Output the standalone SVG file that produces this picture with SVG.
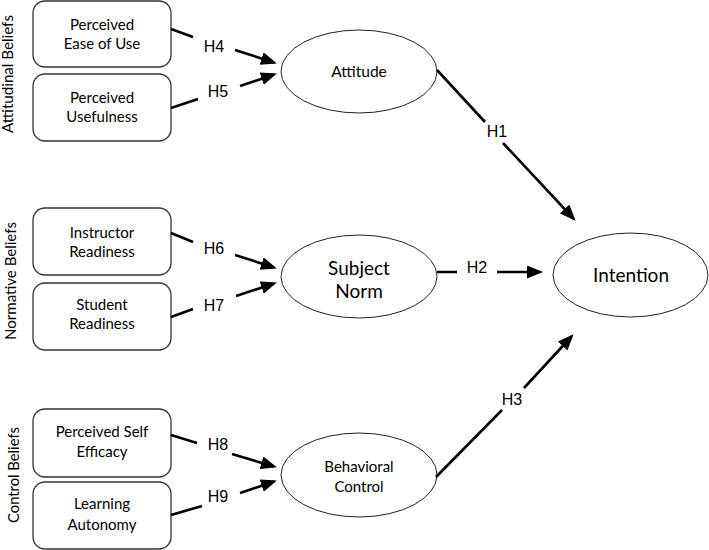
<svg xmlns="http://www.w3.org/2000/svg" width="709" height="550" viewBox="0 0 709 550">
<defs>
<style>
.box{fill:#fff;stroke:#333;stroke-width:1.3}
.ell{fill:#fff;stroke:#222;stroke-width:1}
.t{font-family:Lato,"Liberation Sans",sans-serif;fill:#000;text-anchor:middle}
.h{font-family:"Liberation Sans",Arial,sans-serif;font-size:16px;fill:#000;text-anchor:middle}
.c{fill:none;stroke:#000;stroke-width:2.6}
</style>
<marker id="arr" markerUnits="userSpaceOnUse" markerWidth="16" markerHeight="14" refX="13" refY="6.5" orient="auto">
<path d="M0,0 L16,6.5 L0,13 z" fill="#000"/>
</marker>
</defs>
<rect width="709" height="550" fill="#fff"/>

<g id="group-labels">
<text class="t" font-size="14.5" textLength="118" lengthAdjust="spacingAndGlyphs" transform="translate(13,74) rotate(-90)">Attitudinal Beliefs</text>
<text class="t" font-size="14.5" textLength="118" lengthAdjust="spacingAndGlyphs" transform="translate(16,281) rotate(-90)">Normative Beliefs</text>
<text class="t" font-size="14.5" textLength="96" lengthAdjust="spacingAndGlyphs" transform="translate(19,475) rotate(-90)">Control Beliefs</text>
</g>

<g id="peou"><rect class="box" x="33" y="1" width="138" height="66" rx="12"/>
<text class="t" font-size="15" x="102" y="30">Perceived</text><text class="t" font-size="15" x="102" y="49">Ease of Use</text></g>
<g id="pu"><rect class="box" x="33" y="74" width="138" height="67" rx="12"/>
<text class="t" font-size="15" x="102" y="103">Perceived</text><text class="t" font-size="15" x="102" y="122">Usefulness</text></g>
<g id="ir"><rect class="box" x="33" y="208" width="138" height="67" rx="12"/>
<text class="t" font-size="15" x="102" y="238">Instructor</text><text class="t" font-size="15" x="102" y="257">Readiness</text></g>
<g id="sr"><rect class="box" x="33" y="283" width="138" height="67" rx="12"/>
<text class="t" font-size="15" x="102" y="310">Student</text><text class="t" font-size="15" x="102" y="329">Readiness</text></g>
<g id="pse"><rect class="box" x="33" y="409" width="138" height="68" rx="12"/>
<text class="t" font-size="15" x="102" y="437">Perceived Self</text><text class="t" font-size="15" x="102" y="457">Efficacy</text></g>
<g id="la"><rect class="box" x="33" y="482" width="138" height="67" rx="12"/>
<text class="t" font-size="15" x="102" y="509">Learning</text><text class="t" font-size="15" x="102" y="530">Autonomy</text></g>

<g id="attitude"><ellipse class="ell" cx="359" cy="71.5" rx="78" ry="41.5"/>
<text class="t" font-size="15.5" x="359" y="77">Attitude</text></g>
<g id="subject-norm"><ellipse class="ell" cx="359" cy="276.5" rx="78" ry="41.5"/>
<text class="t" font-size="19" x="359" y="275">Subject</text><text class="t" font-size="19" x="359" y="298">Norm</text></g>
<g id="behavioral-control"><ellipse class="ell" cx="359" cy="475" rx="78" ry="42"/>
<text class="t" font-size="15" x="359" y="472">Behavioral</text><text class="t" font-size="15" x="359" y="492">Control</text></g>
<g id="intention"><ellipse class="ell" cx="630.5" cy="275" rx="77.5" ry="42"/>
<text class="t" font-size="19" x="631" y="282">Intention</text></g>

<g id="connectors">
<path class="c" d="M171,29 L193,37 M235,50 L274,62.5" marker-end="url(#arr)"/>
<path class="c" d="M171,108 L198,99 M240,86 L274,74.5" marker-end="url(#arr)"/>
<path class="c" d="M171,233 L193,242 M235,255 L274,267.5" marker-end="url(#arr)"/>
<path class="c" d="M171,317 L193,309 M236,296 L274,283.5" marker-end="url(#arr)"/>
<path class="c" d="M171,435 L197,443 M232,454 L274,466.5" marker-end="url(#arr)"/>
<path class="c" d="M171,515 L202,506 M240,493 L274,481.5" marker-end="url(#arr)"/>
<path class="c" d="M437,70 L485,122 M503,143 L573.5,218.5" marker-end="url(#arr)"/>
<path class="c" d="M437,272 L457,272 M497,272 L540,272" marker-end="url(#arr)"/>
<path class="c" d="M436,477 L502,410 M524,388 L571.5,336.5" marker-end="url(#arr)"/>
</g>

<g id="labels">
<text class="h" x="214" y="52">H4</text>
<text class="h" x="218" y="97">H5</text>
<text class="h" x="214" y="254">H6</text>
<text class="h" x="214" y="311">H7</text>
<text class="h" x="218" y="450">H8</text>
<text class="h" x="218" y="502">H9</text>
<text class="h" x="497" y="137">H1</text>
<text class="h" x="477" y="273">H2</text>
<text class="h" x="512" y="405">H3</text>
</g>
</svg>
